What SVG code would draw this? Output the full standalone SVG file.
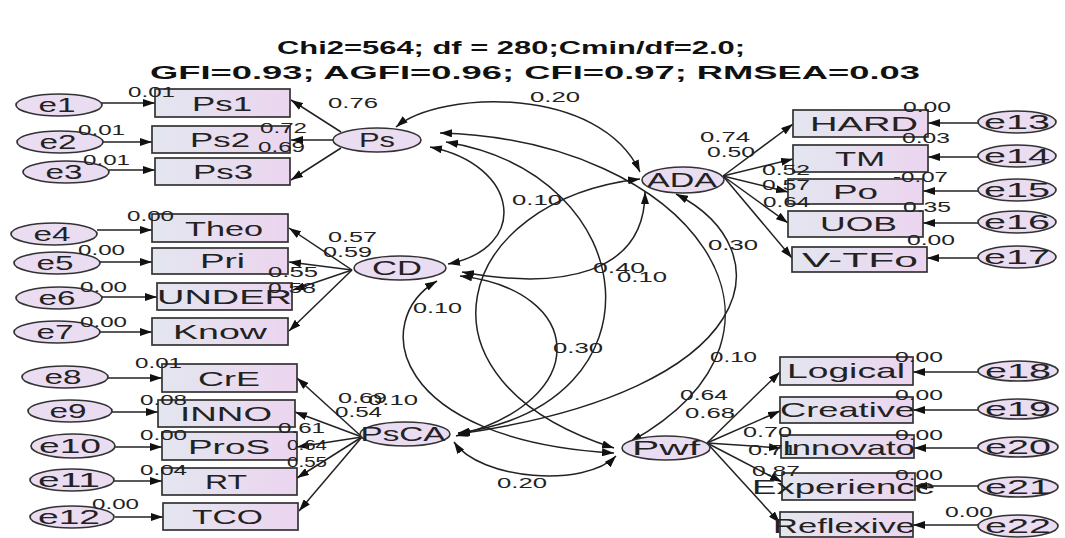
<svg xmlns="http://www.w3.org/2000/svg" width="1065" height="538" viewBox="0 0 1065 538">
<defs>
<linearGradient id="rg" x1="0" y1="0" x2="1" y2="0">
<stop offset="0" stop-color="#e3e6ef"/>
<stop offset="1" stop-color="#ecd5ef"/>
</linearGradient>
<marker id="ah" viewBox="0 0 12 8" refX="12" refY="4" markerWidth="12" markerHeight="8" markerUnits="userSpaceOnUse" orient="auto-start-reverse">
<path d="M0,0 L12,4 L0,8 z" fill="#111"/>
</marker>
<style>
.box{fill:url(#rg);stroke:#333;stroke-width:1.7}
.lat{fill:#eadcf1;stroke:#333;stroke-width:1.6}
.err{fill:#eadcf1;stroke:#333;stroke-width:1.7}
.t{font-family:"Liberation Sans",Arial,sans-serif;font-size:21px;fill:#222}
.n{font-family:"Liberation Sans",Arial,sans-serif;font-size:14px;fill:#222}
.title{font-family:"Liberation Sans",Arial,sans-serif;font-size:19px;font-weight:bold;fill:#111}
.c{fill:none;stroke:#222;stroke-width:1.5}
.a{marker-end:url(#ah)}
.d{marker-start:url(#ah);marker-end:url(#ah)}
</style>
</defs>
<rect width="1065" height="538" fill="#fff"/>
<g id="title">
<text class="title" x="511" y="54" text-anchor="middle" textLength="468" lengthAdjust="spacingAndGlyphs">Chi2=564; df = 280;Cmin/df=2.0;</text>
<text class="title" x="535" y="79" text-anchor="middle" textLength="770" lengthAdjust="spacingAndGlyphs">GFI=0.93; AGFI=0.96; CFI=0.97; RMSEA=0.03</text>
</g>

<g id="connectors">
<path class="c a" d="M101,103 L155,103"/>
<path class="c a" d="M103,142 L152,142"/>
<path class="c a" d="M109,170 L155,170"/>
<path class="c a" d="M97,230 L152,230"/>
<path class="c a" d="M100,262 L152,262"/>
<path class="c a" d="M102,297 L157,297"/>
<path class="c a" d="M100,332 L152,332"/>
<path class="c a" d="M108,378 L162,378"/>
<path class="c a" d="M112,412 L158,412"/>
<path class="c a" d="M115,447 L162,447"/>
<path class="c a" d="M114,481 L162,481"/>
<path class="c a" d="M115,517 L163,517"/>
<path class="c a" d="M978,123 L928,123"/>
<path class="c a" d="M978,157 L928,157"/>
<path class="c a" d="M978,191 L923,191"/>
<path class="c a" d="M978,223 L923,223"/>
<path class="c a" d="M978,258 L927,258"/>
<path class="c a" d="M978,372 L913,372"/>
<path class="c a" d="M978,410 L913,410"/>
<path class="c a" d="M978,448 L914,448"/>
<path class="c a" d="M978,486 L915,486"/>
<path class="c a" d="M978,525 L913,525"/>
<path class="c a" d="M341,132 L291,100"/>
<path class="c a" d="M333,140 L291,140"/>
<path class="c a" d="M341,148 L291,180"/>
<path class="c a" d="M352,270 L289,228"/>
<path class="c a" d="M352,270 L289,262"/>
<path class="c a" d="M352,270 L293,290"/>
<path class="c a" d="M352,270 L289,331"/>
<path class="c a" d="M362,437 L297,378"/>
<path class="c a" d="M362,437 L295,412"/>
<path class="c a" d="M362,437 L297,447"/>
<path class="c a" d="M362,437 L297,478"/>
<path class="c a" d="M362,437 L299,511"/>
<path class="c a" d="M723,176 L793,124"/>
<path class="c a" d="M723,176 L793,159"/>
<path class="c a" d="M723,176 L788,192"/>
<path class="c a" d="M723,176 L788,223"/>
<path class="c a" d="M723,176 L792,258"/>
<path class="c a" d="M707,443 L780,372"/>
<path class="c a" d="M707,443 L780,411"/>
<path class="c a" d="M707,443 L781,448"/>
<path class="c a" d="M707,443 L782,482"/>
<path class="c a" d="M707,443 L780,523"/>
<path class="c d" d="M396,127 C440,90 600,85 640,172"/>
<path class="c d" d="M430,147 C520,165 530,248 448,264"/>
<path class="c d" d="M446,142 C645,175 668,405 458,433"/>
<path class="c d" d="M440,133 C690,140 830,330 630,442"/>
<path class="c d" d="M462,272 C560,290 645,275 645,192"/>
<path class="c d" d="M460,276 C585,290 595,400 456,436"/>
<path class="c d" d="M437,281 C370,320 390,440 614,453"/>
<path class="c d" d="M640,179 C455,200 400,380 614,448"/>
<path class="c d" d="M676,194 C785,250 765,390 458,434"/>
<path class="c d" d="M454,442 C480,480 585,488 616,456"/>
</g>

<g id="Ps1"><rect class="box" x="155" y="89" width="135" height="28"/><text class="t" x="192" y="111" textLength="60" lengthAdjust="spacingAndGlyphs">Ps1</text></g>
<g id="Ps2"><rect class="box" x="152" y="126" width="138" height="27"/><text class="t" x="190" y="147" textLength="60" lengthAdjust="spacingAndGlyphs">Ps2</text></g>
<g id="Ps3"><rect class="box" x="155" y="158" width="135" height="27"/><text class="t" x="193" y="179" textLength="60" lengthAdjust="spacingAndGlyphs">Ps3</text></g>
<g id="Theo"><rect class="box" x="152" y="214" width="136" height="28"/><text class="t" x="185" y="236" textLength="78" lengthAdjust="spacingAndGlyphs">Theo</text></g>
<g id="Pri"><rect class="box" x="152" y="248" width="136" height="26"/><text class="t" x="200" y="268" textLength="45" lengthAdjust="spacingAndGlyphs">Pri</text></g>
<g id="UNDER"><rect class="box" x="157" y="283" width="135" height="27"/><text class="t" x="157" y="304" textLength="135" lengthAdjust="spacingAndGlyphs">UNDER</text></g>
<g id="Know"><rect class="box" x="152" y="318" width="136" height="27"/><text class="t" x="173" y="339" textLength="94" lengthAdjust="spacingAndGlyphs">Know</text></g>
<g id="CrE"><rect class="box" x="162" y="364" width="135" height="28"/><text class="t" x="198" y="386" textLength="62" lengthAdjust="spacingAndGlyphs">CrE</text></g>
<g id="INNO"><rect class="box" x="158" y="400" width="137" height="27"/><text class="t" x="180" y="421" textLength="92" lengthAdjust="spacingAndGlyphs">INNO</text></g>
<g id="ProS"><rect class="box" x="162" y="432" width="135" height="28"/><text class="t" x="188" y="454" textLength="82" lengthAdjust="spacingAndGlyphs">ProS</text></g>
<g id="RT"><rect class="box" x="162" y="468" width="135" height="27"/><text class="t" x="205" y="489" textLength="42" lengthAdjust="spacingAndGlyphs">RT</text></g>
<g id="TCO"><rect class="box" x="163" y="503" width="135" height="27"/><text class="t" x="192" y="524" textLength="71" lengthAdjust="spacingAndGlyphs">TCO</text></g>
<g id="HARD"><rect class="box" x="793" y="110" width="135" height="27"/><text class="t" x="810" y="131" textLength="108" lengthAdjust="spacingAndGlyphs">HARD</text></g>
<g id="TM"><rect class="box" x="793" y="145" width="135" height="27"/><text class="t" x="835" y="166" textLength="50" lengthAdjust="spacingAndGlyphs">TM</text></g>
<g id="Po"><rect class="box" x="788" y="179" width="135" height="25"/><text class="t" x="833" y="199" textLength="45" lengthAdjust="spacingAndGlyphs">Po</text></g>
<g id="UOB"><rect class="box" x="788" y="211" width="135" height="26"/><text class="t" x="820" y="231" textLength="77" lengthAdjust="spacingAndGlyphs">UOB</text></g>
<g id="V-TFo"><rect class="box" x="792" y="247" width="135" height="25"/><text class="t" x="802" y="267" textLength="116" lengthAdjust="spacingAndGlyphs">V-TFo</text></g>
<g id="Logical"><rect class="box" x="780" y="357" width="133" height="28"/><text class="t" x="787" y="378" textLength="118" lengthAdjust="spacingAndGlyphs">Logical</text></g>
<g id="Creative"><rect class="box" x="780" y="397" width="133" height="26"/><text class="t" x="780" y="417" textLength="135" lengthAdjust="spacingAndGlyphs">Creative</text></g>
<g id="Innovato"><rect class="box" x="781" y="435" width="133" height="23"/><text class="t" x="782" y="455" textLength="133" lengthAdjust="spacingAndGlyphs">Innovato</text></g>
<g id="Experience"><rect class="box" x="782" y="473" width="133" height="27"/><text class="t" x="752" y="494" textLength="183" lengthAdjust="spacingAndGlyphs">Experience</text></g>
<g id="Reflexive"><rect class="box" x="780" y="512" width="133" height="25"/><text class="t" x="773" y="533" textLength="142" lengthAdjust="spacingAndGlyphs">Reflexive</text></g>

<g id="Ps"><ellipse class="lat" cx="377" cy="140" rx="44" ry="12"/><text class="t" x="377" y="147" text-anchor="middle" textLength="36" lengthAdjust="spacingAndGlyphs">Ps</text></g>
<g id="CD"><ellipse class="lat" cx="400" cy="268" rx="46" ry="12"/><text class="t" x="397" y="275" text-anchor="middle" textLength="50" lengthAdjust="spacingAndGlyphs">CD</text></g>
<g id="PsCA"><ellipse class="lat" cx="405" cy="434" rx="45" ry="12"/><text class="t" x="403" y="441" text-anchor="middle" textLength="85" lengthAdjust="spacingAndGlyphs">PsCA</text></g>
<g id="ADA"><ellipse class="lat" cx="683" cy="180" rx="41" ry="13"/><text class="t" x="682" y="187" text-anchor="middle" textLength="70" lengthAdjust="spacingAndGlyphs">ADA</text></g>
<g id="Pwf"><ellipse class="lat" cx="666" cy="448" rx="44" ry="12"/><text class="t" x="666" y="455" text-anchor="middle" textLength="68" lengthAdjust="spacingAndGlyphs">Pwf</text></g>

<g id="e1"><ellipse class="err" cx="59" cy="105" rx="43" ry="11"/><text class="t" x="57" y="112" text-anchor="middle" textLength="37" lengthAdjust="spacingAndGlyphs">e1</text></g>
<g id="e2"><ellipse class="err" cx="60" cy="142" rx="43" ry="11"/><text class="t" x="58" y="149" text-anchor="middle" textLength="37" lengthAdjust="spacingAndGlyphs">e2</text></g>
<g id="e3"><ellipse class="err" cx="66" cy="172" rx="43" ry="11"/><text class="t" x="64" y="179" text-anchor="middle" textLength="37" lengthAdjust="spacingAndGlyphs">e3</text></g>
<g id="e4"><ellipse class="err" cx="54" cy="234" rx="43" ry="11"/><text class="t" x="52" y="241" text-anchor="middle" textLength="37" lengthAdjust="spacingAndGlyphs">e4</text></g>
<g id="e5"><ellipse class="err" cx="57" cy="263" rx="43" ry="11"/><text class="t" x="55" y="270" text-anchor="middle" textLength="37" lengthAdjust="spacingAndGlyphs">e5</text></g>
<g id="e6"><ellipse class="err" cx="59" cy="298" rx="43" ry="11"/><text class="t" x="57" y="305" text-anchor="middle" textLength="37" lengthAdjust="spacingAndGlyphs">e6</text></g>
<g id="e7"><ellipse class="err" cx="57" cy="332" rx="43" ry="11"/><text class="t" x="55" y="339" text-anchor="middle" textLength="37" lengthAdjust="spacingAndGlyphs">e7</text></g>
<g id="e8"><ellipse class="err" cx="65" cy="377" rx="43" ry="11"/><text class="t" x="63" y="384" text-anchor="middle" textLength="37" lengthAdjust="spacingAndGlyphs">e8</text></g>
<g id="e9"><ellipse class="err" cx="70" cy="411" rx="42" ry="11"/><text class="t" x="68" y="418" text-anchor="middle" textLength="37" lengthAdjust="spacingAndGlyphs">e9</text></g>
<g id="e10"><ellipse class="err" cx="73" cy="446" rx="42" ry="12"/><text class="t" x="70" y="453" text-anchor="middle" textLength="62" lengthAdjust="spacingAndGlyphs">e10</text></g>
<g id="e11"><ellipse class="err" cx="72" cy="480" rx="42" ry="11"/><text class="t" x="69" y="487" text-anchor="middle" textLength="62" lengthAdjust="spacingAndGlyphs">e11</text></g>
<g id="e12"><ellipse class="err" cx="72" cy="517" rx="42" ry="11"/><text class="t" x="69" y="524" text-anchor="middle" textLength="62" lengthAdjust="spacingAndGlyphs">e12</text></g>
<g id="e13"><ellipse class="err" cx="1017" cy="122" rx="39" ry="11"/><text class="t" x="1017" y="129" text-anchor="middle" textLength="66" lengthAdjust="spacingAndGlyphs">e13</text></g>
<g id="e14"><ellipse class="err" cx="1017" cy="156" rx="39" ry="11"/><text class="t" x="1017" y="163" text-anchor="middle" textLength="66" lengthAdjust="spacingAndGlyphs">e14</text></g>
<g id="e15"><ellipse class="err" cx="1017" cy="190" rx="39" ry="11"/><text class="t" x="1017" y="197" text-anchor="middle" textLength="66" lengthAdjust="spacingAndGlyphs">e15</text></g>
<g id="e16"><ellipse class="err" cx="1017" cy="222" rx="39" ry="11"/><text class="t" x="1017" y="229" text-anchor="middle" textLength="66" lengthAdjust="spacingAndGlyphs">e16</text></g>
<g id="e17"><ellipse class="err" cx="1017" cy="257" rx="39" ry="11"/><text class="t" x="1017" y="264" text-anchor="middle" textLength="66" lengthAdjust="spacingAndGlyphs">e17</text></g>
<g id="e18"><ellipse class="err" cx="1018" cy="371" rx="40" ry="10"/><text class="t" x="1018" y="378" text-anchor="middle" textLength="66" lengthAdjust="spacingAndGlyphs">e18</text></g>
<g id="e19"><ellipse class="err" cx="1018" cy="409" rx="40" ry="10"/><text class="t" x="1018" y="416" text-anchor="middle" textLength="66" lengthAdjust="spacingAndGlyphs">e19</text></g>
<g id="e20"><ellipse class="err" cx="1018" cy="447" rx="40" ry="10"/><text class="t" x="1018" y="454" text-anchor="middle" textLength="66" lengthAdjust="spacingAndGlyphs">e20</text></g>
<g id="e21"><ellipse class="err" cx="1018" cy="487" rx="40" ry="10"/><text class="t" x="1018" y="494" text-anchor="middle" textLength="66" lengthAdjust="spacingAndGlyphs">e21</text></g>
<g id="e22"><ellipse class="err" cx="1018" cy="526" rx="40" ry="11"/><text class="t" x="1018" y="533" text-anchor="middle" textLength="66" lengthAdjust="spacingAndGlyphs">e22</text></g>

<g id="labels">
<text class="n" x="128" y="97" textLength="47" lengthAdjust="spacingAndGlyphs">0.01</text>
<text class="n" x="78" y="135" textLength="47" lengthAdjust="spacingAndGlyphs">0.01</text>
<text class="n" x="83" y="165" textLength="47" lengthAdjust="spacingAndGlyphs">0.01</text>
<text class="n" x="127" y="221" textLength="47" lengthAdjust="spacingAndGlyphs">0.00</text>
<text class="n" x="78" y="255" textLength="47" lengthAdjust="spacingAndGlyphs">0.00</text>
<text class="n" x="80" y="292" textLength="47" lengthAdjust="spacingAndGlyphs">0.00</text>
<text class="n" x="80" y="327" textLength="47" lengthAdjust="spacingAndGlyphs">0.00</text>
<text class="n" x="135" y="368" textLength="47" lengthAdjust="spacingAndGlyphs">0.01</text>
<text class="n" x="140" y="405" textLength="47" lengthAdjust="spacingAndGlyphs">0.08</text>
<text class="n" x="140" y="440" textLength="47" lengthAdjust="spacingAndGlyphs">0.00</text>
<text class="n" x="140" y="475" textLength="47" lengthAdjust="spacingAndGlyphs">0.04</text>
<text class="n" x="92" y="509" textLength="47" lengthAdjust="spacingAndGlyphs">0.00</text>
<text class="n" x="903" y="112" textLength="48" lengthAdjust="spacingAndGlyphs">0.00</text>
<text class="n" x="902" y="143" textLength="48" lengthAdjust="spacingAndGlyphs">0.03</text>
<text class="n" x="893" y="182" textLength="55" lengthAdjust="spacingAndGlyphs">-0.07</text>
<text class="n" x="903" y="212" textLength="48" lengthAdjust="spacingAndGlyphs">0.35</text>
<text class="n" x="907" y="245" textLength="48" lengthAdjust="spacingAndGlyphs">0.00</text>
<text class="n" x="895" y="362" textLength="48" lengthAdjust="spacingAndGlyphs">0.00</text>
<text class="n" x="895" y="400" textLength="48" lengthAdjust="spacingAndGlyphs">0.00</text>
<text class="n" x="895" y="440" textLength="48" lengthAdjust="spacingAndGlyphs">0.00</text>
<text class="n" x="895" y="480" textLength="48" lengthAdjust="spacingAndGlyphs">0.00</text>
<text class="n" x="945" y="517" textLength="48" lengthAdjust="spacingAndGlyphs">0.00</text>
<text class="n" x="328" y="108" textLength="50" lengthAdjust="spacingAndGlyphs">0.76</text>
<text class="n" x="260" y="133" textLength="47" lengthAdjust="spacingAndGlyphs">0.72</text>
<text class="n" x="258" y="152" textLength="47" lengthAdjust="spacingAndGlyphs">0.69</text>
<text class="n" x="328" y="242" textLength="49" lengthAdjust="spacingAndGlyphs">0.57</text>
<text class="n" x="323" y="257" textLength="49" lengthAdjust="spacingAndGlyphs">0.59</text>
<text class="n" x="268" y="277" textLength="50" lengthAdjust="spacingAndGlyphs">0.55</text>
<text class="n" x="268" y="293" textLength="48" lengthAdjust="spacingAndGlyphs">0.58</text>
<text class="n" x="338" y="403" textLength="49" lengthAdjust="spacingAndGlyphs">0.69</text>
<text class="n" x="335" y="417" textLength="47" lengthAdjust="spacingAndGlyphs">0.54</text>
<text class="n" x="278" y="433" textLength="47" lengthAdjust="spacingAndGlyphs">0.61</text>
<text class="n" x="287" y="450" textLength="40" lengthAdjust="spacingAndGlyphs">0.64</text>
<text class="n" x="287" y="467" textLength="40" lengthAdjust="spacingAndGlyphs">0.55</text>
<text class="n" x="700" y="142" textLength="50" lengthAdjust="spacingAndGlyphs">0.74</text>
<text class="n" x="707" y="157" textLength="48" lengthAdjust="spacingAndGlyphs">0.50</text>
<text class="n" x="762" y="175" textLength="48" lengthAdjust="spacingAndGlyphs">0.52</text>
<text class="n" x="762" y="190" textLength="48" lengthAdjust="spacingAndGlyphs">0.57</text>
<text class="n" x="763" y="207" textLength="47" lengthAdjust="spacingAndGlyphs">0.64</text>
<text class="n" x="680" y="400" textLength="48" lengthAdjust="spacingAndGlyphs">0.64</text>
<text class="n" x="685" y="418" textLength="50" lengthAdjust="spacingAndGlyphs">0.68</text>
<text class="n" x="743" y="437" textLength="49" lengthAdjust="spacingAndGlyphs">0.70</text>
<text class="n" x="748" y="455" textLength="49" lengthAdjust="spacingAndGlyphs">0.71</text>
<text class="n" x="752" y="476" textLength="48" lengthAdjust="spacingAndGlyphs">0.87</text>
<text class="n" x="530" y="102" textLength="50" lengthAdjust="spacingAndGlyphs">0.20</text>
<text class="n" x="512" y="205" textLength="50" lengthAdjust="spacingAndGlyphs">0.10</text>
<text class="n" x="593" y="273" textLength="52" lengthAdjust="spacingAndGlyphs">0.40</text>
<text class="n" x="617" y="282" textLength="50" lengthAdjust="spacingAndGlyphs">0.10</text>
<text class="n" x="708" y="250" textLength="50" lengthAdjust="spacingAndGlyphs">0.30</text>
<text class="n" x="413" y="313" textLength="49" lengthAdjust="spacingAndGlyphs">0.10</text>
<text class="n" x="553" y="353" textLength="50" lengthAdjust="spacingAndGlyphs">0.30</text>
<text class="n" x="710" y="362" textLength="47" lengthAdjust="spacingAndGlyphs">0.10</text>
<text class="n" x="368" y="405" textLength="50" lengthAdjust="spacingAndGlyphs">0.10</text>
<text class="n" x="497" y="488" textLength="50" lengthAdjust="spacingAndGlyphs">0.20</text>
</g>
</svg>
